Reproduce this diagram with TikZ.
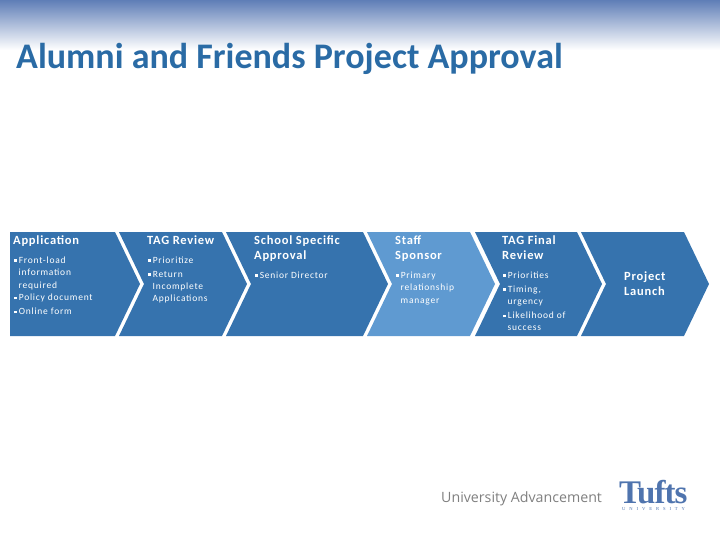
\documentclass[tikz,border=0pt]{standalone}
\usepackage{fontspec}
\usepackage{xcolor}
\setmainfont{Carlito}
\newfontfamily\spaced[LetterSpace=6]{Carlito}
\newfontfamily\itemfont[LetterSpace=8]{Carlito}
\newfontfamily\logofont{Open Sans}
\newfontfamily\tuftsfont{Liberation Serif}
\usetikzlibrary{positioning}
\definecolor{stepblue}{HTML}{3673AE}
\definecolor{stepmid}{HTML}{5F9AD1}
\definecolor{titleblue}{HTML}{2A6BA5}
\definecolor{topblue}{HTML}{5F7EB7}
\definecolor{tuftsblue}{HTML}{4F74AE}
\definecolor{logogrey}{HTML}{7F7F7F}
\newcommand{\bul}{\rule[1.5pt]{2.6pt}{2.6pt}\hspace{2pt}}
\begin{document}
\begin{tikzpicture}[x=1pt,y=-1pt,
    head/.style={anchor=north west,inner sep=0pt,align=left,text=white,font=\fontsize{12.5}{15}\spaced\bfseries},
    items/.style={anchor=north west,inner sep=0pt,align=left,text=white,font=\fontsize{9.5}{12.5}\itemfont}]
    \useasboundingbox (0,0) rectangle (720,540);
    \shade [top color=topblue, bottom color=white] (0,0) rectangle (720,50);
    \node [anchor=west,inner sep=0pt,text=titleblue,font=\fontsize{36}{40}\selectfont\bfseries] (title) at (16,58.5) {Alumni and Friends Project Approval};
    \fill [stepblue] (10,232) -- (115,232) -- (140,284) -- (115,336) -- (10,336) -- cycle;
    \foreach \l/\r/\c in {119/222/stepblue, 226/363/stepblue, 367/470/stepmid, 475/577/stepblue, 581/684/stepblue}
        \fill [\c] (\l,232) -- (\r,232) -- (\r+25,284) -- (\r,336) -- (\l,336) -- (\l+25,284) -- cycle;
    \node [head] (head_1) at (13,235.5) {Application};
    \node [head] (head_2) at (147,235.5) {TAG Review};
    \node [head] (head_3) at (254,235.5) {School Specific\\Approval};
    \node [head] (head_4) at (395,235.5) {Staff\\Sponsor};
    \node [head] (head_5) at (502,235.5) {TAG Final\\Review};
    \node [head] (head_6) at (624,271.5) {Project\\Launch};
    \node [items] (items_1) at (14,256.5) {\bul Front-load\\\hspace{4.5pt}information\\\hspace{4.5pt}required\\\bul Policy document\\[1.5pt]\bul Online form};
    \node [items] (items_2) at (148,256.5) {\bul Prioritize\\[1.5pt]\bul Return\\\hspace{4.5pt}Incomplete\\[-1pt]\hspace{4.5pt}Applications};
    \node [items] (items_3) at (255,271.5) {\bul Senior Director};
    \node [items] (items_4) at (396,271.5) {\bul Primary\\\hspace{4.5pt}relationship\\\hspace{4.5pt}manager};
    \node [items] (items_5) at (503,271.5) {\bul Priorities\\[1.5pt]\bul Timing,\\\hspace{4.5pt}urgency\\[1.5pt]\bul Likelihood of\\[-1pt]\hspace{4.5pt}success};
    \node [anchor=west,inner sep=0pt,text=logogrey,font=\fontsize{14.2}{16}\logofont] (unit) at (441,499) {University Advancement};
    \node [anchor=west,inner sep=0pt,text=tuftsblue,font=\fontsize{33}{34}\tuftsfont\bfseries] (tufts) at (619,492.5) {\addfontfeature{LetterSpace=-3}Tufts};
    \node [anchor=west,inner sep=0pt,text=tuftsblue,font=\fontsize{4.6}{6}\tuftsfont] (univ) at (622,509) {\addfontfeature{LetterSpace=85}UNIVERSITY};
\end{tikzpicture}
\end{document}
